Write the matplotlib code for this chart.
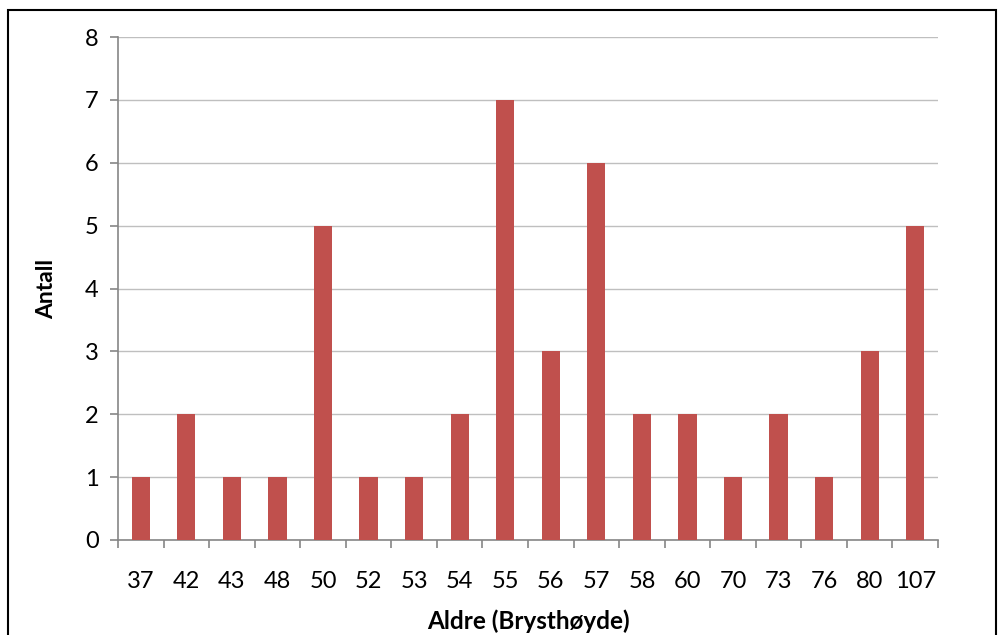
import matplotlib
matplotlib.use("Agg")
import matplotlib.pyplot as plt
from matplotlib.patches import Rectangle
import numpy as np

categories = ["37", "42", "43", "48", "50", "52", "53", "54", "55", "56",
              "57", "58", "60", "70", "73", "76", "80", "107"]
counts = [1, 2, 1, 1, 5, 1, 1, 2, 7, 3, 6, 2, 2, 1, 2, 1, 3, 5]
y_ticks = [0, 1, 2, 3, 4, 5, 6, 7, 8]

plt.rcParams['font.family'] = ['Lato', 'DejaVu Sans']

fig = plt.figure(figsize=(9.98, 6.35), dpi=100)
ax = fig.add_axes([118/998, 1-540/635, (938-118)/998, (540-37)/635])

x = np.arange(len(categories))
ax.bar(x, counts, width=0.4, color="#C0504D", zorder=3)

ax.set_xlim(-0.5, len(categories) - 0.5)
ax.set_ylim(0, 8)
ax.set_yticks(y_ticks)
ax.set_yticklabels([str(v) for v in y_ticks], fontsize=17)
ax.yaxis.grid(True, color="#BFBFBF", linewidth=1.0, zorder=0)

ax.set_xticks(np.arange(-0.5, len(categories), 1.0))
ax.set_xticklabels([])
ax.set_xticks(x, minor=True)
ax.set_xticklabels(categories, minor=True, fontsize=17)
ax.tick_params(axis='x', which='major', length=6, color="#868686", width=1.2)
ax.tick_params(axis='x', which='minor', length=0, pad=22)
ax.tick_params(axis='y', length=6, color="#868686", width=1.2, pad=8)

for s in ["top", "right"]:
    ax.spines[s].set_visible(False)
for s in ["left", "bottom"]:
    ax.spines[s].set_color("#868686")
    ax.spines[s].set_linewidth(1.2)

ax.set_xlabel("Aldre (Brysthøyde)", fontsize=17.5, fontweight="bold", labelpad=13)
ax.set_ylabel("Antall", fontsize=16.5, fontweight="bold", labelpad=20)

fig.patches.append(Rectangle((8/998, -0.1), (996-8)/998, 1.1 - 10/635,
                             transform=fig.transFigure, fill=False,
                             edgecolor="black", linewidth=1.5))

fig.savefig("out.png", dpi=100)
